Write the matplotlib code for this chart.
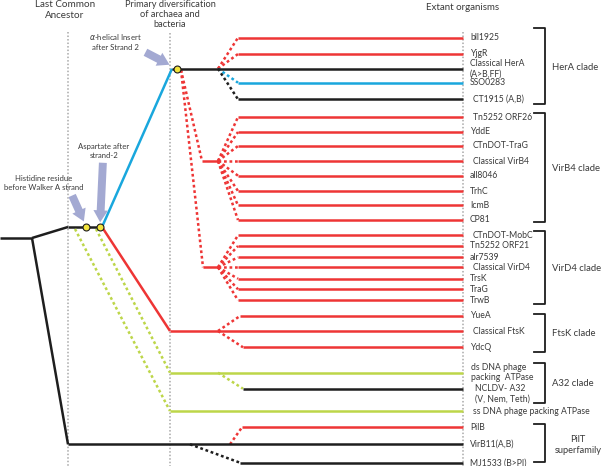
import matplotlib.pyplot as plt
from matplotlib.patches import FancyArrowPatch

plt.rcParams['font.family'] = ['Lato', 'DejaVu Sans']

RED = '#ee3535'
BLUE = '#19a7dd'
GREEN = '#bdd649'
BLACK = '#1e1e1e'
GREY = '#a8a8a8'
TXT = '#3a3a3a'
ARROW = '#a3a9d2'
colors = {'r': RED, 'b': BLUE, 'g': GREEN, 'k': BLACK}

# leaves (extant organisms) and their row on the page
leaf_names = ['bll1925', 'YjgR', 'Classical HerA\n(A>B,FF)', 'SSO0283', 'CT1915 (A,B)',
              'Tn5252 ORF26', 'YddE', 'CTnDOT-TraG', 'Classical VirB4', 'all8046',
              'TrhC', 'IcmB', 'CP81',
              'CTnDOT-MobC', 'Tn5252 ORF21', 'alr7539', 'Classical VirD4', 'TrsK',
              'TraG', 'TrwB',
              'YueA', 'Classical FtsK', 'YdcQ',
              'ds DNA phage\npacking  ATPase', 'NCLDV- A32\n(V, Nem, Teth)',
              'ss DNA phage packing ATPase',
              'PilB', 'VirB11(A,B)', 'MJ1533 (B>PI)']
leaf_y = [37.7, 54, 68.7, 82.7, 99.3,
          117, 132, 146, 161, 175.7, 191, 205.3, 220,
          235.3, 246, 257.3, 267.3, 278.7, 289.3, 300.3,
          316, 331, 347.3,
          372.7, 388.7, 411,
          427.3, 444.3, 462.7]
leaf_x0 = [238, 238, 172, 238, 238,
           238, 238, 238, 238, 238, 238, 238, 238,
           238, 238, 238, 238, 238, 238, 238,
           240, 170, 243,
           170, 243, 170,
           242, 68, 240]
leaf_col = ['r', 'r', 'k', 'b', 'k'] + ['r'] * 15 + ['r', 'r', 'r'] + ['g', 'k', 'g'] + ['r', 'k', 'k']
label_dx = [7, 7, 7, 7, 10, 10, 7, 10, 10, 7, 7, 7, 7,
            10, 7, 7, 10, 7, 7, 7, 7, 10, 7, 8, 12, 10, 7, 7, 7]

# internal branches: x0, y0, x1, y1, colour, dotted
branches = [
    (0, 238, 32, 238, 'k', False),
    (32, 238, 68, 227, 'k', False),
    (32, 238, 68, 444.3, 'k', False),
    (68, 227, 102, 227, 'k', False),
    (75, 229, 170, 411, 'g', True),
    (96, 229, 170, 372.7, 'g', True),
    (218, 372.7, 243, 388.7, 'g', True),
    (102, 227, 170, 331, 'r', False),
    (218, 331, 240, 316, 'r', True),
    (218, 331, 243, 347.3, 'r', True),
    (102, 227, 172, 68.7, 'b', False),
    (218, 68.7, 238, 37.7, 'r', True),
    (218, 68.7, 238, 54, 'r', True),
    (218, 68.7, 238, 82.7, 'b', True),
    (218, 68.7, 238, 99.3, 'k', True),
    (181, 70, 202, 161, 'r', True),
    (202, 161, 218, 161, 'r', False),
    (181, 70, 203, 267.3, 'r', True),
    (203, 267.3, 218, 267.3, 'r', False),
    (230, 444.3, 242, 427.3, 'r', True),
    (190, 444.3, 240, 462.7, 'k', True),
]
# fans out of the VirB4 and VirD4 nodes
for y in leaf_y[5:13]:
    branches.append((218, 161, 238, y, 'r', True))
for y in leaf_y[13:20]:
    branches.append((218, 267.3, 238, y, 'r', True))

marker_x = [86, 100, 177]
marker_y = [227, 227, 68.7]

clade_names = ['HerA clade', 'VirB4 clade', 'VirD4 clade', 'FtsK clade', 'A32 clade',
               'PilT\nsuperfamily']
clade_top = [28, 113, 231, 314, 363, 424]
clade_bot = [104, 222, 304, 352, 403, 462]

fig = plt.figure(figsize=(6.02, 4.66), dpi=100)
ax = fig.add_axes([0, 0, 1, 1])
ax.set_xlim(0, 602)
ax.set_ylim(466, 0)
ax.axis('off')

# time guides
for gx, top in [(68, 32), (170, 33), (463, 32)]:
    ax.plot([gx, gx], [top, 466], color=GREY, lw=1.1, ls=(0, (1, 1.3)), zorder=1)

for x0, y0, x1, y1, c, dot in branches:
    ax.plot([x0, x1], [y0, y1], color=colors[c], lw=1.8,
            ls=(0, (1.1, 1.1)) if dot else '-', solid_capstyle='butt',
            dash_capstyle='butt', zorder=3)

for name, y, x0, c, dx in zip(leaf_names, leaf_y, leaf_x0, leaf_col, label_dx):
    ax.plot([x0, 463], [y, y], color=colors[c], lw=1.8, solid_capstyle='butt', zorder=3)
    yy = y + 5 if name.startswith('NCLDV') else y
    ax.text(463 + dx, yy, name, fontsize=6.2, color=TXT, ha='left', va='center',
            linespacing=1.2)

ax.plot(marker_x, marker_y, 'o', ms=5, mfc='#f3e43c', mec=BLACK, mew=0.8, zorder=5)

for name, t, b in zip(clade_names, clade_top, clade_bot):
    ax.plot([534, 545, 545, 534], [t, t, b, b], color=BLACK, lw=1.3, zorder=3)
    if '\n' in name:
        ax.text(578, (t + b) / 2 + 2, name, fontsize=6.7, color=TXT, ha='center',
                va='center', linespacing=1.35)
    else:
        ax.text(552, (t + b) / 2 + 1, name, fontsize=6.8, color=TXT, ha='left', va='center')

# headers
ax.text(65, 10, 'Last Common\nAncestor', fontsize=7.1, color=TXT, ha='center',
        va='center', linespacing=1.15)
ax.text(170, 14.5, 'Primary diversification\nof archaea and\nbacteria', fontsize=6.7,
        color=TXT, ha='center', va='center', linespacing=1.2)
ax.text(463, 7, 'Extant organisms', fontsize=7, color=TXT, ha='center', va='center')

# feature annotations
notes = [(r'$\alpha$-helical Insert' + '\nafter Strand 2', 115, 41.5, (143, 51), (172, 66)),
         ('Aspartate after\nstrand-2', 104, 151, (103, 160), (100, 225)),
         ('Histidine residue\nbefore Walker A strand', 44, 183, (71, 193), (85, 224))]
for txt, tx, ty, tail, tip in notes:
    ax.text(tx, ty, txt, fontsize=5.6, color=TXT, ha='center', va='center', linespacing=1.25)
    ax.add_patch(FancyArrowPatch(tail, tip, arrowstyle='simple,head_length=0.9,head_width=1.1,tail_width=0.6',
                                 mutation_scale=9.5, fc=ARROW, ec='none', zorder=4))

fig.savefig('out.png', dpi=100)
